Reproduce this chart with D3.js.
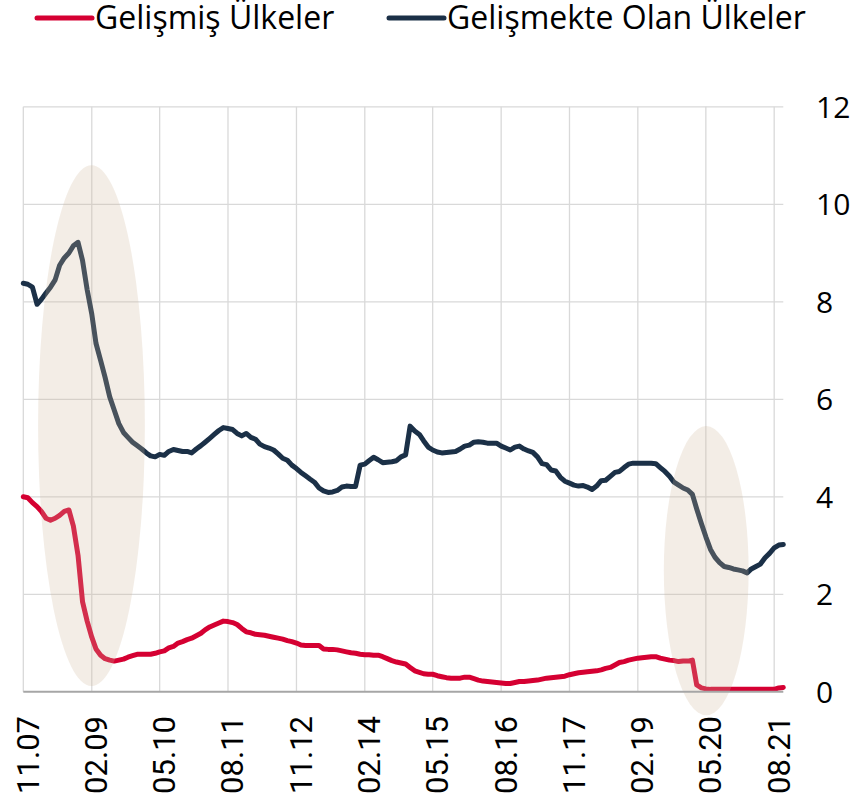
<!DOCTYPE html>
<html><head><meta charset="utf-8">
<script src="https://cdn.jsdelivr.net/npm/d3@7"></script>
<style>body{margin:0;background:#fff}svg{display:block}</style>
</head><body>
<svg id="c" width="856" height="801"></svg>
<script>
const seriesNames = ["Gelişmiş Ülkeler", "Gelişmekte Olan Ülkeler"];
const seriesColors = ["#d50032", "#1b3047"];
const startMonth = [2007, 11];
const tickLabels = ["11.07","02.09","05.10","08.11","11.12","02.14","05.15","08.16","11.17","02.19","05.20","08.21"];
const yTicks = [0,2,4,6,8,10,12];
const developed = [
4.00,3.98,3.88,3.80,3.70,3.56,3.52,3.56,3.62,3.70,3.73,3.40,2.80,1.85,1.45,1.12,0.88,0.75,0.68,0.65,
0.63,0.65,0.67,0.71,0.74,0.77,0.77,0.77,0.77,0.79,0.82,0.84,0.90,0.93,1.00,1.03,1.07,1.10,1.15,1.20,
1.27,1.33,1.37,1.41,1.45,1.44,1.42,1.38,1.30,1.23,1.21,1.18,1.17,1.16,1.14,1.12,1.10,1.08,1.05,1.03,
1.00,0.96,0.95,0.95,0.95,0.95,0.88,0.87,0.87,0.86,0.84,0.82,0.80,0.79,0.77,0.76,0.76,0.75,0.75,0.72,
0.68,0.64,0.61,0.59,0.57,0.50,0.43,0.40,0.37,0.36,0.36,0.33,0.31,0.29,0.28,0.28,0.28,0.30,0.30,0.27,
0.24,0.22,0.21,0.20,0.19,0.18,0.17,0.17,0.19,0.21,0.21,0.22,0.23,0.24,0.26,0.28,0.29,0.30,0.31,0.32,
0.35,0.37,0.39,0.40,0.41,0.42,0.43,0.45,0.48,0.50,0.55,0.60,0.62,0.65,0.67,0.69,0.70,0.71,0.72,0.72,
0.69,0.67,0.65,0.64,0.62,0.63,0.63,0.65,0.14,0.08,0.06,0.05,0.05,0.05,0.05,0.05,0.05,0.05,0.05,0.05,
0.05,0.05,0.05,0.05,0.05,0.05,0.08,0.09];
const emerging = [
8.38,8.36,8.30,7.95,8.05,8.18,8.30,8.45,8.75,8.90,9.00,9.15,9.22,8.85,8.25,7.75,7.15,6.80,6.45,6.05,
5.78,5.50,5.32,5.22,5.12,5.05,4.98,4.90,4.84,4.82,4.87,4.85,4.93,4.97,4.95,4.93,4.93,4.90,4.98,5.05,
5.12,5.20,5.28,5.36,5.42,5.40,5.38,5.30,5.25,5.30,5.22,5.18,5.08,5.03,5.00,4.96,4.88,4.79,4.75,4.65,
4.58,4.50,4.43,4.36,4.30,4.18,4.12,4.09,4.10,4.13,4.20,4.22,4.21,4.21,4.65,4.67,4.74,4.81,4.76,4.70,
4.71,4.72,4.74,4.82,4.86,5.45,5.35,5.28,5.15,5.02,4.96,4.92,4.90,4.91,4.92,4.93,4.98,5.04,5.06,5.12,
5.13,5.12,5.10,5.10,5.10,5.04,5.00,4.96,5.02,5.04,4.98,4.94,4.91,4.82,4.68,4.66,4.55,4.53,4.40,4.32,
4.28,4.24,4.22,4.23,4.20,4.15,4.22,4.33,4.34,4.42,4.50,4.52,4.60,4.67,4.69,4.69,4.69,4.69,4.69,4.68,
4.60,4.52,4.42,4.30,4.24,4.18,4.14,4.05,3.75,3.45,3.18,2.92,2.76,2.65,2.57,2.55,2.52,2.50,2.48,2.44,
2.52,2.57,2.62,2.75,2.84,2.95,3.01,3.02];
// highlighted periods (month index ranges / value ranges)
const highlightMonths = [[3.3, 27.1], [142.8, 161.7]];
const highlightValues = [[0.12, 10.8], [-0.48, 5.45]];

const svg = d3.select("#c");
const start = new Date(startMonth[0], startMonth[1]-1, 1);
const dates = developed.map((_, i) => d3.timeMonth.offset(start, i));
const x = d3.scaleTime().domain([start, dates[dates.length-1]]).range([23.3, 783.3]);
const y = d3.scaleLinear().domain([0, 12]).range([691.8, 106.8]);
const tickDates = tickLabels.map((_, i) => d3.timeMonth.offset(start, i*15));

// grid
svg.append("g").selectAll("line").data(yTicks.filter(d => d > 0)).join("line")
  .attr("x1", x.range()[0]).attr("x2", x.range()[1])
  .attr("y1", d => y(d)).attr("y2", d => y(d))
  .attr("stroke", "#d9d9d9").attr("stroke-width", 1.3);
svg.append("g").selectAll("line").data(tickDates).join("line")
  .attr("x1", d => x(d)).attr("x2", d => x(d))
  .attr("y1", y(12)).attr("y2", y(0))
  .attr("stroke", "#d9d9d9").attr("stroke-width", 1.3);

// lines
const line = d3.line().x((d, i) => x(dates[i])).y(d => y(d)).curve(d3.curveLinear);
[developed, emerging].forEach((s, k) => {
  svg.append("path").datum(s).attr("d", line)
    .attr("fill", "none").attr("stroke", seriesColors[k])
    .attr("stroke-width", 5).attr("stroke-linejoin", "round").attr("stroke-linecap", "round");
});

// highlight ellipses (drawn above lines, translucent)
const monthX = m => x(start) + (x(dates[1]) - x(dates[0])) * m;
svg.append("g").selectAll("ellipse").data(highlightMonths).join("ellipse")
  .attr("cx", d => (monthX(d[0]) + monthX(d[1]))/2)
  .attr("rx", d => (monthX(d[1]) - monthX(d[0]))/2)
  .attr("cy", (d, i) => (y(highlightValues[i][0]) + y(highlightValues[i][1]))/2)
  .attr("ry", (d, i) => (y(highlightValues[i][0]) - y(highlightValues[i][1]))/2)
  .attr("fill", "rgb(207,183,155)").attr("fill-opacity", 0.25);

// x axis line
svg.append("line").attr("x1", x.range()[0]).attr("x2", x.range()[1])
  .attr("y1", y(0)).attr("y2", y(0)).attr("stroke", "#a6a6a6").attr("stroke-width", 2);

// x tick labels
svg.append("g").selectAll("text").data(tickDates).join("text")
  .attr("transform", d => `translate(${x(d)+4.5},716) rotate(-90)`)
  .attr("text-anchor", "end").attr("dy", "0.35em")
  .attr("font-family", "Roboto").attr("font-size", 31).attr("fill", "#000")
  .text((d, i) => tickLabels[i]);

// y tick labels (right)
svg.append("g").selectAll("text").data(yTicks).join("text")
  .attr("x", 816).attr("y", d => y(d)).attr("dy", "0.36em")
  .attr("font-family", "Open Sans").attr("font-size", 30).attr("fill", "#000")
  .text(d => d);

// legend
const legendX = [37, 389];
const lg = svg.append("g");
seriesNames.forEach((n, k) => {
  lg.append("line").attr("x1", legendX[k]).attr("x2", legendX[k] + 55)
    .attr("y1", 18).attr("y2", 18).attr("stroke", seriesColors[k])
    .attr("stroke-width", 5).attr("stroke-linecap", "round");
  lg.append("text").attr("x", legendX[k] + 58).attr("y", 29)
    .attr("font-family", "Open Sans").attr("font-size", 32).attr("fill", "#000")
    .text(n);
});
</script>
</body></html>
